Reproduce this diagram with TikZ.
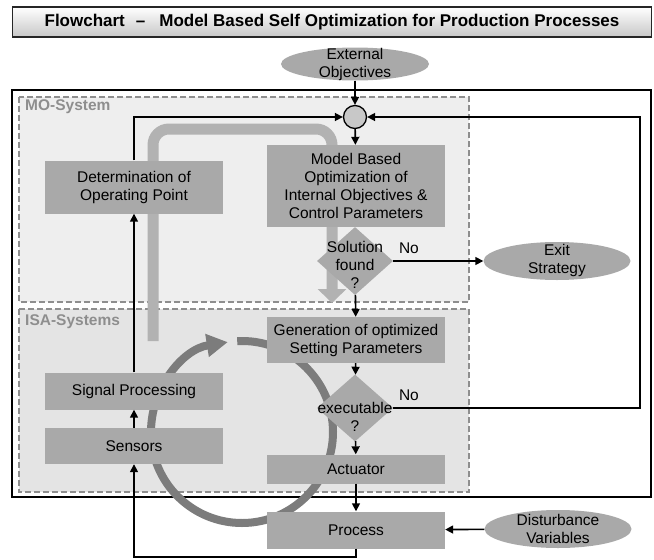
\documentclass[tikz,border=0pt]{standalone}
\usepackage{fontspec}
\setmainfont{Liberation Sans}
\usetikzlibrary{shapes.geometric, arrows.meta, positioning}

\definecolor{boxGray}{HTML}{A9A9A9}
\definecolor{panelLight}{HTML}{EEEEEE}
\definecolor{panelDark}{HTML}{E4E4E4}
\definecolor{frameGray}{HTML}{8E8E8E}
\definecolor{flowGray}{HTML}{B2B2B2}
\definecolor{loopGray}{HTML}{7C7C7C}
\definecolor{sumGray}{HTML}{C8C8C8}

\begin{document}
\begin{tikzpicture}[
    x=1pt, y=-1pt,
    txt/.style={font=\fontsize{15.5}{18}\selectfont, align=center},
    titlebar/.style={rectangle, draw=black!85, line width=1.3pt, top color=white,
                     bottom color=black!22, minimum width=639pt, minimum height=30pt,
                     font=\bfseries\fontsize{17}{19}\selectfont},
    block/.style={rectangle, fill=boxGray, minimum width=178pt, inner sep=0pt, txt},
    oval/.style={ellipse, fill=boxGray, inner sep=0pt, minimum width=147pt},
    decision/.style={diamond, fill=boxGray, inner sep=0pt, minimum width=76pt, minimum height=68pt},
    panel/.style={draw=frameGray, line width=1.5pt, dash pattern=on 6pt off 3pt},
    panelname/.style={anchor=west, inner sep=0pt, text=frameGray,
                      font=\bfseries\fontsize{15.5}{18}\selectfont},
    noLabel/.style={anchor=base west, txt, inner sep=0pt, xshift=5pt, yshift=8pt},
    conn/.style={line width=1.6pt, -{Triangle[length=8pt, width=8pt]}}
  ]
  \useasboundingbox (0,0) rectangle (654,560);

  % frames
  \node[titlebar] (title) at (332,22) {Flowchart\hspace{11pt}--\hspace{14pt}Model Based Self Optimization for Production Processes};
  \draw[line width=1.3pt] (12,90) rectangle (651,497);
  \draw[panel, fill=panelLight] (19,97) rectangle (469,302);
  \draw[panel, fill=panelDark] (19,309) rectangle (469,492);
  \node[panelname] (moName) at (25,107) {MO-System};
  \node[panelname] (isaName) at (25,322) {ISA-Systems};

  % big gray arrows
  \draw[flowGray, line width=11pt, rounded corners=16pt, -{Triangle[length=14pt, width=28pt]}]
    (153,341) -- (153,129) -- (332,129) -- (332,303);
  \draw[loopGray, line width=8pt, -{Triangle[length=21pt, width=22pt]}]
    (242,432) ++(-93:91) arc[start angle=-93, end angle=261, radius=91];

  % nodes
  \node[oval, minimum width=148pt, minimum height=33pt,
        label={[txt]center:External\\Objectives}] (extObj) at (355,64) {};
  \node[circle, draw, fill=sumGray, line width=1.3pt, minimum size=23pt, inner sep=0pt] (sum) at (355,117) {};
  \node[block, minimum height=53pt] (detOP) at (134,187) {Determination of\\Operating Point};
  \node[block, minimum height=82pt] (mbo) at (356,186) {Model Based\\Optimization of\\Internal Objectives \&\\Control Parameters};
  \node[decision, label={[txt, yshift=-4pt]center:Solution\\found\\?}] (sol) at (355,261) {};
  \node[oval, minimum height=38pt, label={[txt, yshift=1pt]center:Exit\\Strategy}] (exitS) at (557,261) {};
  \node[block, minimum height=46pt] (gen) at (356,340) {Generation of optimized\\Setting Parameters};
  \node[decision, minimum height=67pt, label={[txt, yshift=-9pt]center:executable\\?}] (exe) at (355,408) {};
  \node[block, minimum height=29pt] (act) at (356,469) {Actuator};
  \node[block, minimum height=37pt] (proc) at (356,530) {Process};
  \node[oval, minimum height=38pt, label={[txt]center:Disturbance\\Variables}] (dist) at (558,529) {};
  \node[block, minimum height=37pt] (sig) at (134,391) {Signal Processing};
  \node[block, minimum height=36pt] (sens) at (134,446) {Sensors};

  \coordinate (rightRail) at (640,117);
  \coordinate (bottomRail) at (356,557);

  % connectors
  \draw[conn] (extObj) -- (sum);
  \draw[conn] (sum) -- (mbo);
  \draw[conn] (sol) -- (gen);
  \draw[conn] (sol.east) node[noLabel] {No} -- (exitS.west);
  \draw[conn] (gen) -- (exe);
  \draw[conn] (exe) -- (act);
  \draw[conn] (act) -- (proc);
  \draw[conn] (dist) -- (proc);
  \draw[conn] (exe.east) node[noLabel] {No} -| (rightRail) -- (sum);
  \draw[conn] (detOP) |- (sum);
  \draw[conn] (sig) -- (detOP);
  \draw[conn] (sens) -- (sig);
  \draw[conn] (proc) -- (bottomRail) -| (sens);
\end{tikzpicture}
\end{document}
